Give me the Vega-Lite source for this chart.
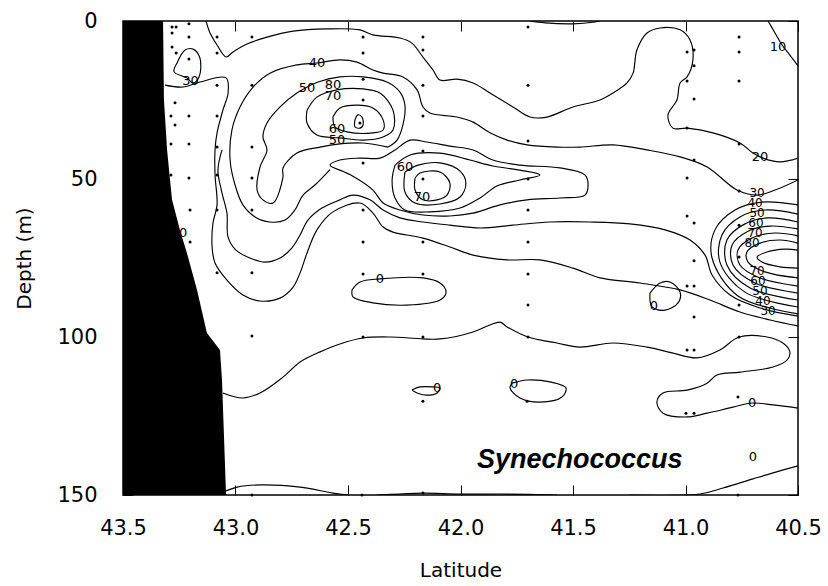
{
"$schema":"https://vega.github.io/schema/vega-lite/v6.json",
"width":675,"height":474,"autosize":"none",
"padding":{"left":123,"top":21,"right":30,"bottom":91},
"background":"white",
"config":{"view":{"stroke":"black","strokeWidth":1.5},"axis":{"grid":false,"domain":false,"labelFont":"DejaVu Sans","titleFont":"DejaVu Sans","labelColor":"black","titleColor":"black","tickColor":"black","tickWidth":1}},
"resolve":{"axis":{"x":"independent","y":"independent"}},
"datasets":{
"land":[{"lat":43.322,"dep":0},{"lat":43.318,"dep":25},{"lat":43.304,"dep":40.8},{"lat":43.291,"dep":50.3},{"lat":43.282,"dep":56.6},{"lat":43.247,"dep":66.1},{"lat":43.216,"dep":73.4},{"lat":43.171,"dep":85.1},{"lat":43.127,"dep":98.7},{"lat":43.069,"dep":104.1},{"lat":43.06,"dep":113.6},{"lat":43.042,"dep":150}],
"pts":[{"lat":43.282,"dep":1.9},{"lat":43.264,"dep":1.9},{"lat":43.282,"dep":3.8},{"lat":43.282,"dep":8.2},{"lat":43.264,"dep":10.1},{"lat":43.269,"dep":25.9},{"lat":43.287,"dep":30.1},{"lat":43.269,"dep":32.9},{"lat":43.287,"dep":38.9},{"lat":43.287,"dep":48.7},
{"lat":43.207,"dep":0.9},{"lat":43.207,"dep":5.1},{"lat":43.207,"dep":12.0},{"lat":43.207,"dep":30.1},{"lat":43.207,"dep":38.9},{"lat":43.207,"dep":49.7},{"lat":43.202,"dep":59.8},{"lat":43.202,"dep":69.9},
{"lat":43.082,"dep":5.1},{"lat":43.082,"dep":10.1},{"lat":43.082,"dep":20.3},{"lat":43.082,"dep":30.1},{"lat":43.082,"dep":39.9},{"lat":43.082,"dep":48.7},{"lat":43.082,"dep":59.8},{"lat":43.082,"dep":79.7},
{"lat":42.927,"dep":5.1},{"lat":42.927,"dep":20.3},{"lat":42.927,"dep":39.9},{"lat":42.927,"dep":49.7},{"lat":42.927,"dep":59.8},{"lat":42.927,"dep":79.7},{"lat":42.927,"dep":99.7},{"lat":42.927,"dep":150},
{"lat":42.433,"dep":5.1},{"lat":42.433,"dep":10.1},{"lat":42.433,"dep":18.4},{"lat":42.433,"dep":25.0},{"lat":42.447,"dep":32.3},{"lat":42.433,"dep":44.9},{"lat":42.433,"dep":59.8},{"lat":42.433,"dep":69.9},{"lat":42.433,"dep":80.1},{"lat":42.433,"dep":100.0},{"lat":42.438,"dep":150},
{"lat":42.167,"dep":5.1},{"lat":42.167,"dep":9.2},{"lat":42.167,"dep":20.3},{"lat":42.167,"dep":30.1},{"lat":42.167,"dep":41.1},{"lat":42.167,"dep":50.0},{"lat":42.167,"dep":69.9},{"lat":42.167,"dep":80.1},{"lat":42.167,"dep":100.0},{"lat":42.167,"dep":120.3},{"lat":42.167,"dep":149.4},
{"lat":41.7,"dep":1.9},{"lat":41.7,"dep":20.3},{"lat":41.7,"dep":38.0},{"lat":41.7,"dep":50.0},{"lat":41.7,"dep":59.8},{"lat":41.7,"dep":69.9},{"lat":41.7,"dep":80.1},{"lat":41.7,"dep":89.9},{"lat":41.7,"dep":100.0},{"lat":41.704,"dep":120.3},
{"lat":40.993,"dep":9.8},{"lat":40.962,"dep":9.2},{"lat":40.962,"dep":14.2},{"lat":40.993,"dep":19.0},{"lat":40.962,"dep":24.7},{"lat":40.993,"dep":33.9},{"lat":40.962,"dep":44.0},{"lat":40.993,"dep":49.7},{"lat":40.993,"dep":61.7},{"lat":40.962,"dep":63.9},{"lat":40.962,"dep":75.9},{"lat":40.993,"dep":83.9},{"lat":40.962,"dep":83.9},{"lat":40.962,"dep":93.7},{"lat":40.993,"dep":104.1},{"lat":40.962,"dep":104.1},{"lat":40.998,"dep":124.1},{"lat":40.962,"dep":124.1},
{"lat":40.762,"dep":5.1},{"lat":40.762,"dep":9.8},{"lat":40.762,"dep":19.0},{"lat":40.762,"dep":38.9},{"lat":40.762,"dep":53.8},{"lat":40.762,"dep":64.6},{"lat":40.762,"dep":74.7},{"lat":40.762,"dep":89.9},{"lat":40.762,"dep":100.0},{"lat":40.767,"dep":119.0},{"lat":40.767,"dep":150}],
"lab":[{"t":"40","lat":42.638,"dep":13.3},{"t":"50","lat":42.682,"dep":21.2},{"t":"80","lat":42.567,"dep":20.3},{"t":"70","lat":42.567,"dep":23.8},{"t":"60","lat":42.549,"dep":34.1},{"t":"50","lat":42.549,"dep":37.8},{"t":"60","lat":42.247,"dep":46.2},{"t":"70","lat":42.171,"dep":55.7},{"t":"30","lat":43.2,"dep":19.0},{"t":"20","lat":40.669,"dep":43.0},{"t":"10","lat":40.589,"dep":8.2},
{"t":"0","lat":42.358,"dep":81.6},{"t":"0","lat":41.14,"dep":90.2},{"t":"0","lat":43.233,"dep":67.1},{"t":"0","lat":42.104,"dep":116.1},{"t":"0","lat":41.762,"dep":114.9},{"t":"0","lat":40.704,"dep":120.9},{"t":"0","lat":40.7,"dep":138.0}],
"labR":[{"t":"30","lat":40.682,"dep":54.4},{"t":"40","lat":40.691,"dep":57.6},{"t":"50","lat":40.682,"dep":60.8},{"t":"60","lat":40.687,"dep":63.9},{"t":"70","lat":40.691,"dep":67.1},{"t":"80","lat":40.704,"dep":70.3},
{"t":"70","lat":40.682,"dep":79.1},{"t":"60","lat":40.678,"dep":82.3},{"t":"50","lat":40.669,"dep":85.4},{"t":"40","lat":40.656,"dep":88.6},{"t":"30","lat":40.633,"dep":91.8}],
"ct":[
{"c":"A","lat":43.131,"dep":0},{"c":"A","lat":43.113,"dep":3.8},{"c":"A","lat":43.082,"dep":7.6},{"c":"A","lat":43.042,"dep":11.4},{"c":"A","lat":43.011,"dep":9.8},{"c":"A","lat":42.949,"dep":7.3},{"c":"A","lat":42.86,"dep":5.1},{"c":"A","lat":42.744,"dep":3.2},{"c":"A","lat":42.593,"dep":2.5},{"c":"A","lat":42.447,"dep":2.8},{"c":"A","lat":42.389,"dep":4.4},{"c":"A","lat":42.269,"dep":5.4},{"c":"A","lat":42.216,"dep":7.0},{"c":"A","lat":42.167,"dep":11.4},{"c":"A","lat":42.122,"dep":15.5},{"c":"A","lat":42.091,"dep":18.7},{"c":"A","lat":42.016,"dep":18.4},{"c":"A","lat":41.944,"dep":19.6},{"c":"A","lat":41.869,"dep":22.8},{"c":"A","lat":41.767,"dep":27.2},{"c":"A","lat":41.691,"dep":30.4},{"c":"A","lat":41.616,"dep":30.4},{"c":"A","lat":41.5,"dep":27.2},{"c":"A","lat":41.38,"dep":25.0},{"c":"A","lat":41.322,"dep":22.8},{"c":"A","lat":41.26,"dep":19.6},{"c":"A","lat":41.233,"dep":16.5},{"c":"A","lat":41.216,"dep":9.2},{"c":"A","lat":41.171,"dep":3.8},{"c":"A","lat":41.113,"dep":2.2},{"c":"A","lat":41.024,"dep":2.8},{"c":"A","lat":40.98,"dep":6.0},{"c":"A","lat":40.967,"dep":12.3},{"c":"A","lat":40.993,"dep":17.7},{"c":"A","lat":41.024,"dep":19.6},{"c":"A","lat":41.038,"dep":25.0},{"c":"A","lat":41.078,"dep":29.7},{"c":"A","lat":41.056,"dep":33.9},{"c":"A","lat":40.993,"dep":33.9},{"c":"A","lat":40.878,"dep":35.4},{"c":"A","lat":40.758,"dep":38.6},{"c":"A","lat":40.70,"dep":41.8},{"c":"A","lat":40.656,"dep":43.4},{"c":"A","lat":40.58,"dep":44.6},{"c":"A","lat":40.5,"dep":43.4},
{"c":"TR","lat":40.633,"dep":0},{"c":"TR","lat":40.602,"dep":3.8},{"c":"TR","lat":40.571,"dep":7.6},{"c":"TR","lat":40.536,"dep":10.8},{"c":"TR","lat":40.5,"dep":14.2},
{"c":"TS","lat":41.691,"dep":0},{"c":"TS","lat":41.624,"dep":0.6},{"c":"TS","lat":41.5,"dep":0.9},{"c":"TS","lat":41.402,"dep":0.3},{"c":"TS","lat":41.38,"dep":0},
{"c":"L30","lat":43.26,"dep":13.3},{"c":"L30","lat":43.224,"dep":9.2},{"c":"L30","lat":43.189,"dep":8.9},{"c":"L30","lat":43.158,"dep":11.7},{"c":"L30","lat":43.162,"dep":17.7},{"c":"L30","lat":43.189,"dep":19.6},{"c":"L30","lat":43.216,"dep":18.0},{"c":"L30","lat":43.273,"dep":16.1},{"c":"L30","lat":43.26,"dep":13.3},
{"c":"B","lat":43.313,"dep":20.3},{"c":"B","lat":43.233,"dep":20.9},{"c":"B","lat":43.158,"dep":19.3},{"c":"B","lat":43.042,"dep":18.0},{"c":"B","lat":43.033,"dep":22.8},{"c":"B","lat":43.056,"dep":28.2},{"c":"B","lat":43.082,"dep":35.4},{"c":"B","lat":43.091,"dep":40.8},{"c":"B","lat":43.091,"dep":48.7},{"c":"B","lat":43.082,"dep":58.2},{"c":"B","lat":43.1,"dep":63.9},{"c":"B","lat":43.104,"dep":71.5},{"c":"B","lat":43.091,"dep":76.6},{"c":"B","lat":43.038,"dep":82.0},{"c":"B","lat":42.967,"dep":86.7},{"c":"B","lat":42.891,"dep":88.6},{"c":"B","lat":42.802,"dep":87.7},{"c":"B","lat":42.744,"dep":84.2},{"c":"B","lat":42.713,"dep":79.7},{"c":"B","lat":42.682,"dep":73.4},{"c":"B","lat":42.638,"dep":66.1},{"c":"B","lat":42.567,"dep":60.4},{"c":"B","lat":42.447,"dep":57.6},{"c":"B","lat":42.389,"dep":60.8},{"c":"B","lat":42.344,"dep":65.2},{"c":"B","lat":42.3,"dep":66.8},{"c":"B","lat":42.167,"dep":68.7},{"c":"B","lat":42.047,"dep":71.5},{"c":"B","lat":41.944,"dep":74.1},{"c":"B","lat":41.793,"dep":75.6},{"c":"B","lat":41.647,"dep":75.6},{"c":"B","lat":41.5,"dep":78.2},{"c":"B","lat":41.38,"dep":81.3},{"c":"B","lat":41.202,"dep":82.9},{"c":"B","lat":41.024,"dep":85.1},{"c":"B","lat":40.891,"dep":88.3},{"c":"B","lat":40.758,"dep":92.1},{"c":"B","lat":40.624,"dep":94.6},{"c":"B","lat":40.5,"dep":96.5},
{"c":"K30","lat":42.58,"dep":47.0},{"c":"K30","lat":42.647,"dep":51.9},{"c":"K30","lat":42.7,"dep":55.1},{"c":"K30","lat":42.736,"dep":59.8},{"c":"K30","lat":42.78,"dep":63.0},{"c":"K30","lat":42.847,"dep":63.6},{"c":"K30","lat":42.913,"dep":62.0},{"c":"K30","lat":42.967,"dep":58.2},{"c":"K30","lat":43.002,"dep":51.9},{"c":"K30","lat":43.024,"dep":44.0},{"c":"K30","lat":43.016,"dep":34.5},{"c":"K30","lat":42.98,"dep":27.2},{"c":"K30","lat":42.922,"dep":20.9},{"c":"K30","lat":42.847,"dep":16.5},{"c":"K30","lat":42.727,"dep":13.9},{"c":"K30","lat":42.638,"dep":13.3},{"c":"K30","lat":42.536,"dep":12.3},{"c":"K30","lat":42.46,"dep":13.0},{"c":"K30","lat":42.389,"dep":15.5},{"c":"K30","lat":42.344,"dep":16.5},{"c":"K30","lat":42.256,"dep":17.7},{"c":"K30","lat":42.193,"dep":21.8},{"c":"K30","lat":42.167,"dep":27.2},{"c":"K30","lat":42.136,"dep":29.1},{"c":"K30","lat":42.016,"dep":30.4},{"c":"K30","lat":41.944,"dep":32.0},{"c":"K30","lat":41.869,"dep":35.4},{"c":"K30","lat":41.793,"dep":37.7},{"c":"K30","lat":41.704,"dep":39.2},{"c":"K30","lat":41.571,"dep":39.9},{"c":"K30","lat":41.469,"dep":39.9},{"c":"K30","lat":41.322,"dep":39.2},{"c":"K30","lat":41.171,"dep":40.8},{"c":"K30","lat":41.024,"dep":43.0},{"c":"K30","lat":40.904,"dep":46.2},{"c":"K30","lat":40.771,"dep":53.5},{"c":"K30","lat":40.682,"dep":55.1},{"c":"K30","lat":40.602,"dep":53.5},{"c":"K30","lat":40.5,"dep":50.3},
{"c":"U2","lat":43.06,"dep":40.8},{"c":"U2","lat":43.078,"dep":47.2},{"c":"U2","lat":43.06,"dep":54.4},{"c":"U2","lat":43.038,"dep":60.8},{"c":"U2","lat":43.033,"dep":68.4},{"c":"U2","lat":42.998,"dep":72.5},{"c":"U2","lat":42.936,"dep":75.0},{"c":"U2","lat":42.869,"dep":76.3},{"c":"U2","lat":42.802,"dep":75.0},{"c":"U2","lat":42.749,"dep":71.8},{"c":"U2","lat":42.713,"dep":67.7},{"c":"U2","lat":42.678,"dep":63.0},{"c":"U2","lat":42.616,"dep":59.2},{"c":"U2","lat":42.536,"dep":56.6},{"c":"U2","lat":42.478,"dep":55.1},{"c":"U2","lat":42.402,"dep":56.6},{"c":"U2","lat":42.344,"dep":59.8},{"c":"U2","lat":42.269,"dep":62.3},{"c":"U2","lat":42.167,"dep":63.6},{"c":"U2","lat":42.047,"dep":64.6},{"c":"U2","lat":41.913,"dep":65.5},{"c":"U2","lat":41.767,"dep":64.6},{"c":"U2","lat":41.602,"dep":63.6},{"c":"U2","lat":41.424,"dep":63.6},{"c":"U2","lat":41.247,"dep":64.2},{"c":"U2","lat":41.091,"dep":66.1},{"c":"U2","lat":40.98,"dep":69.3},{"c":"U2","lat":40.913,"dep":74.1},{"c":"U2","lat":40.882,"dep":80.4},{"c":"U2","lat":40.802,"dep":86.7},{"c":"U2","lat":40.669,"dep":90.8},{"c":"U2","lat":40.5,"dep":93.4},
{"c":"TG1","lat":42.536,"dep":47.2},{"c":"TG1","lat":42.478,"dep":49.1},{"c":"TG1","lat":42.389,"dep":53.5},{"c":"TG1","lat":42.344,"dep":57.6},{"c":"TG1","lat":42.269,"dep":59.8},{"c":"TG1","lat":42.167,"dep":61.4},{"c":"TG1","lat":42.047,"dep":61.7},{"c":"TG1","lat":41.944,"dep":60.8},{"c":"TG1","lat":41.824,"dep":58.2},{"c":"TG1","lat":41.704,"dep":56.6},{"c":"TG1","lat":41.558,"dep":56.0},{"c":"TG1","lat":41.447,"dep":55.1},{"c":"TG1","lat":41.433,"dep":51.9},{"c":"TG1","lat":41.447,"dep":48.7},{"c":"TG1","lat":41.558,"dep":46.5},{"c":"TG1","lat":41.736,"dep":45.6},{"c":"TG1","lat":41.856,"dep":44.0},{"c":"TG1","lat":41.944,"dep":40.8},{"c":"TG1","lat":42.047,"dep":39.6},{"c":"TG1","lat":42.149,"dep":38.3},{"c":"TG1","lat":42.224,"dep":37.7},{"c":"TG1","lat":42.291,"dep":40.8},{"c":"TG1","lat":42.358,"dep":43.4},{"c":"TG1","lat":42.447,"dep":43.4},{"c":"TG1","lat":42.536,"dep":44.0},{"c":"TG1","lat":42.58,"dep":45.6},{"c":"TG1","lat":42.536,"dep":47.2},
{"c":"P2c","lat":42.291,"dep":45.6},{"c":"P2c","lat":42.224,"dep":42.4},{"c":"P2c","lat":42.091,"dep":41.8},{"c":"P2c","lat":41.958,"dep":44.0},{"c":"P2c","lat":41.856,"dep":45.9},{"c":"P2c","lat":41.736,"dep":47.2},{"c":"P2c","lat":41.647,"dep":48.7},{"c":"P2c","lat":41.736,"dep":50.3},{"c":"P2c","lat":41.838,"dep":52.2},{"c":"P2c","lat":41.913,"dep":56.0},{"c":"P2c","lat":42.002,"dep":59.2},{"c":"P2c","lat":42.136,"dep":60.4},{"c":"P2c","lat":42.247,"dep":59.8},{"c":"P2c","lat":42.291,"dep":56.0},{"c":"P2c","lat":42.304,"dep":50.3},{"c":"P2c","lat":42.291,"dep":45.6},
{"c":"P2b","lat":42.247,"dep":47.8},{"c":"P2b","lat":42.189,"dep":45.6},{"c":"P2b","lat":42.091,"dep":44.9},{"c":"P2b","lat":42.002,"dep":47.5},{"c":"P2b","lat":41.976,"dep":51.3},{"c":"P2b","lat":42.002,"dep":55.7},{"c":"P2b","lat":42.091,"dep":57.9},{"c":"P2b","lat":42.202,"dep":57.6},{"c":"P2b","lat":42.247,"dep":54.1},{"c":"P2b","lat":42.247,"dep":47.8},
{"c":"P2a","lat":42.202,"dep":49.7},{"c":"P2a","lat":42.18,"dep":48.1},{"c":"P2a","lat":42.091,"dep":47.8},{"c":"P2a","lat":42.047,"dep":51.3},{"c":"P2a","lat":42.06,"dep":55.1},{"c":"P2a","lat":42.104,"dep":56.6},{"c":"P2a","lat":42.167,"dep":56.6},{"c":"P2a","lat":42.202,"dep":53.5},{"c":"P2a","lat":42.202,"dep":49.7},
{"c":"P1a","lat":42.567,"dep":30.4},{"c":"P1a","lat":42.536,"dep":27.5},{"c":"P1a","lat":42.46,"dep":26.6},{"c":"P1a","lat":42.389,"dep":27.5},{"c":"P1a","lat":42.344,"dep":31.3},{"c":"P1a","lat":42.344,"dep":34.5},{"c":"P1a","lat":42.389,"dep":35.4},{"c":"P1a","lat":42.504,"dep":35.1},{"c":"P1a","lat":42.558,"dep":33.5},{"c":"P1a","lat":42.567,"dep":30.4},
{"c":"P1b","lat":42.682,"dep":28.2},{"c":"P1b","lat":42.638,"dep":24.1},{"c":"P1b","lat":42.549,"dep":21.8},{"c":"P1b","lat":42.433,"dep":21.5},{"c":"P1b","lat":42.358,"dep":22.8},{"c":"P1b","lat":42.3,"dep":28.2},{"c":"P1b","lat":42.3,"dep":34.5},{"c":"P1b","lat":42.344,"dep":36.7},{"c":"P1b","lat":42.433,"dep":37.7},{"c":"P1b","lat":42.536,"dep":37.0},{"c":"P1b","lat":42.638,"dep":36.1},{"c":"P1b","lat":42.682,"dep":32.3},{"c":"P1b","lat":42.682,"dep":28.2},
{"c":"P1t","lat":42.469,"dep":31.3},{"c":"P1t","lat":42.456,"dep":29.7},{"c":"P1t","lat":42.438,"dep":30.4},{"c":"P1t","lat":42.433,"dep":32.9},{"c":"P1t","lat":42.447,"dep":33.9},{"c":"P1t","lat":42.469,"dep":33.5},{"c":"P1t","lat":42.469,"dep":31.3},
{"c":"P1c","lat":42.322,"dep":39.9},{"c":"P1c","lat":42.433,"dep":38.6},{"c":"P1c","lat":42.536,"dep":38.9},{"c":"P1c","lat":42.624,"dep":39.9},{"c":"P1c","lat":42.727,"dep":41.8},{"c":"P1c","lat":42.789,"dep":46.5},{"c":"P1c","lat":42.789,"dep":49.4},{"c":"P1c","lat":42.833,"dep":57.6},{"c":"P1c","lat":42.878,"dep":56.6},{"c":"P1c","lat":42.904,"dep":53.5},{"c":"P1c","lat":42.891,"dep":46.2},{"c":"P1c","lat":42.86,"dep":40.8},{"c":"P1c","lat":42.878,"dep":36.7},{"c":"P1c","lat":42.86,"dep":32.3},{"c":"P1c","lat":42.802,"dep":27.2},{"c":"P1c","lat":42.727,"dep":22.8},{"c":"P1c","lat":42.633,"dep":19.3},{"c":"P1c","lat":42.536,"dep":17.7},{"c":"P1c","lat":42.433,"dep":17.7},{"c":"P1c","lat":42.327,"dep":19.3},{"c":"P1c","lat":42.269,"dep":22.5},{"c":"P1c","lat":42.247,"dep":26.6},{"c":"P1c","lat":42.256,"dep":32.9},{"c":"P1c","lat":42.282,"dep":37.7},{"c":"P1c","lat":42.322,"dep":39.9},
{"c":"R1","lat":40.5,"dep":72.5},{"c":"R1","lat":40.558,"dep":72.2},{"c":"R1","lat":40.638,"dep":73.1},{"c":"R1","lat":40.682,"dep":74.7},{"c":"R1","lat":40.66,"dep":76.3},{"c":"R1","lat":40.58,"dep":77.8},{"c":"R1","lat":40.5,"dep":78.2},
{"c":"R2","lat":40.5,"dep":70.3},{"c":"R2","lat":40.58,"dep":69.3},{"c":"R2","lat":40.669,"dep":70.3},{"c":"R2","lat":40.727,"dep":73.1},{"c":"R2","lat":40.722,"dep":76.3},{"c":"R2","lat":40.647,"dep":79.4},{"c":"R2","lat":40.5,"dep":81.3},
{"c":"R3","lat":40.5,"dep":68.0},{"c":"R3","lat":40.602,"dep":67.1},{"c":"R3","lat":40.704,"dep":68.7},{"c":"R3","lat":40.767,"dep":72.5},{"c":"R3","lat":40.758,"dep":77.2},{"c":"R3","lat":40.669,"dep":81.3},{"c":"R3","lat":40.5,"dep":83.9},
{"c":"R4","lat":40.5,"dep":65.8},{"c":"R4","lat":40.624,"dep":64.9},{"c":"R4","lat":40.722,"dep":66.5},{"c":"R4","lat":40.793,"dep":70.9},{"c":"R4","lat":40.789,"dep":77.2},{"c":"R4","lat":40.691,"dep":82.9},{"c":"R4","lat":40.5,"dep":86.1},
{"c":"R5","lat":40.5,"dep":63.6},{"c":"R5","lat":40.633,"dep":62.3},{"c":"R5","lat":40.736,"dep":64.2},{"c":"R5","lat":40.816,"dep":69.3},{"c":"R5","lat":40.816,"dep":77.2},{"c":"R5","lat":40.713,"dep":84.5},{"c":"R5","lat":40.5,"dep":88.3},
{"c":"R6","lat":40.5,"dep":61.1},{"c":"R6","lat":40.647,"dep":59.8},{"c":"R6","lat":40.758,"dep":62.0},{"c":"R6","lat":40.838,"dep":67.7},{"c":"R6","lat":40.847,"dep":76.3},{"c":"R6","lat":40.736,"dep":85.8},{"c":"R6","lat":40.5,"dep":90.5},
{"c":"R7","lat":40.5,"dep":58.2},{"c":"R7","lat":40.66,"dep":57.3},{"c":"R7","lat":40.78,"dep":59.8},{"c":"R7","lat":40.869,"dep":66.1},{"c":"R7","lat":40.882,"dep":75.0},{"c":"R7","lat":40.767,"dep":87.0},{"c":"R7","lat":40.5,"dep":92.7},
{"c":"LM","lat":43.056,"dep":117.7},{"c":"LM","lat":42.967,"dep":119.3},{"c":"LM","lat":42.891,"dep":117.7},{"c":"LM","lat":42.789,"dep":112.7},{"c":"LM","lat":42.713,"dep":107.9},{"c":"LM","lat":42.624,"dep":104.7},{"c":"LM","lat":42.536,"dep":102.2},{"c":"LM","lat":42.433,"dep":100.3},{"c":"LM","lat":42.313,"dep":100.0},{"c":"LM","lat":42.167,"dep":100.6},{"c":"LM","lat":42.091,"dep":100.6},{"c":"LM","lat":41.944,"dep":98.4},{"c":"LM","lat":41.869,"dep":96.2},{"c":"LM","lat":41.824,"dep":95.3},{"c":"LM","lat":41.793,"dep":96.8},{"c":"LM","lat":41.7,"dep":100.0},{"c":"LM","lat":41.571,"dep":101.9},{"c":"LM","lat":41.469,"dep":103.2},{"c":"LM","lat":41.322,"dep":101.9},{"c":"LM","lat":41.171,"dep":103.2},{"c":"LM","lat":41.056,"dep":105.1},{"c":"LM","lat":40.949,"dep":106.6},{"c":"LM","lat":40.847,"dep":104.1},{"c":"LM","lat":40.762,"dep":100.0},{"c":"LM","lat":40.638,"dep":100.0},{"c":"LM","lat":40.567,"dep":101.9},{"c":"LM","lat":40.536,"dep":104.7},{"c":"LM","lat":40.549,"dep":107.3},{"c":"LM","lat":40.611,"dep":109.5},{"c":"LM","lat":40.758,"dep":111.1},{"c":"LM","lat":40.86,"dep":112.0},{"c":"LM","lat":40.904,"dep":114.6},{"c":"LM","lat":40.993,"dep":116.8},{"c":"LM","lat":41.1,"dep":117.7},{"c":"LM","lat":41.127,"dep":120.6},{"c":"LM","lat":41.1,"dep":124.1},{"c":"LM","lat":40.993,"dep":125.3},{"c":"LM","lat":40.904,"dep":124.1},{"c":"LM","lat":40.789,"dep":122.2},{"c":"LM","lat":40.704,"dep":120.9},{"c":"LM","lat":40.611,"dep":121.5},{"c":"LM","lat":40.5,"dep":122.5},
{"c":"BT1","lat":43.042,"dep":148.7},{"c":"BT1","lat":42.993,"dep":147.5},{"c":"BT1","lat":42.891,"dep":146.8},{"c":"BT1","lat":42.713,"dep":147.5},{"c":"BT1","lat":42.567,"dep":149.4},{"c":"BT1","lat":42.5,"dep":150},
{"c":"BT2","lat":42.371,"dep":150},{"c":"BT2","lat":42.269,"dep":149.7},{"c":"BT2","lat":42.167,"dep":149.4},{"c":"BT2","lat":42.002,"dep":149.7},{"c":"BT2","lat":41.793,"dep":149.7},{"c":"BT2","lat":41.571,"dep":150},
{"c":"BT3","lat":41.247,"dep":150},{"c":"BT3","lat":40.936,"dep":149.7},{"c":"BT3","lat":40.833,"dep":147.8},{"c":"BT3","lat":40.7,"dep":144.9},{"c":"BT3","lat":40.611,"dep":143.0},{"c":"BT3","lat":40.5,"dep":140.8},
{"c":"S1","lat":42.482,"dep":85.1},{"c":"S1","lat":42.447,"dep":82.6},{"c":"S1","lat":42.358,"dep":81.6},{"c":"S1","lat":42.167,"dep":81.3},{"c":"S1","lat":42.091,"dep":82.9},{"c":"S1","lat":42.064,"dep":85.8},{"c":"S1","lat":42.091,"dep":88.3},{"c":"S1","lat":42.238,"dep":89.9},{"c":"S1","lat":42.389,"dep":89.2},{"c":"S1","lat":42.478,"dep":87.3},{"c":"S1","lat":42.482,"dep":85.1},
{"c":"S2","lat":41.158,"dep":86.1},{"c":"S2","lat":41.113,"dep":82.9},{"c":"S2","lat":41.069,"dep":82.6},{"c":"S2","lat":41.024,"dep":85.8},{"c":"S2","lat":41.033,"dep":89.2},{"c":"S2","lat":41.091,"dep":91.5},{"c":"S2","lat":41.149,"dep":90.5},{"c":"S2","lat":41.158,"dep":86.1},
{"c":"S3","lat":42.216,"dep":116.8},{"c":"S3","lat":42.18,"dep":115.8},{"c":"S3","lat":42.122,"dep":115.8},{"c":"S3","lat":42.091,"dep":116.1},{"c":"S3","lat":42.104,"dep":117.7},{"c":"S3","lat":42.149,"dep":118.4},{"c":"S3","lat":42.193,"dep":117.7},{"c":"S3","lat":42.216,"dep":116.8},
{"c":"S4","lat":41.771,"dep":114.6},{"c":"S4","lat":41.704,"dep":113.6},{"c":"S4","lat":41.602,"dep":114.2},{"c":"S4","lat":41.531,"dep":116.1},{"c":"S4","lat":41.549,"dep":119.0},{"c":"S4","lat":41.647,"dep":120.6},{"c":"S4","lat":41.736,"dep":119.3},{"c":"S4","lat":41.78,"dep":116.1},{"c":"S4","lat":41.771,"dep":114.6}
]},
"layer":[
{"data":{"name":"land"},"mark":{"type":"area","orient":"horizontal","color":"black"},
 "encoding":{
  "y":{"field":"dep","type":"quantitative","scale":{"domain":[0,150],"reverse":true,"nice":false,"zero":false},
       "axis":{"orient":"left","values":[0,50,100,150],"labelFontSize":21,"tickSize":-10,"labelPadding":36,"title":"Depth (m)","titleFontSize":20,"titleFontWeight":"normal","titlePadding":22}},
  "x":{"field":"lat","type":"quantitative","scale":{"domain":[40.5,43.5],"reverse":true,"nice":false,"zero":false},
       "axis":{"orient":"bottom","values":[43.5,43,42.5,42,41.5,41,40.5],"format":".1f","labelFontSize":21,"tickSize":-10,"labelPadding":32,"labelFlush":false,"labelOverlap":false,"title":"Latitude","titleFontSize":20,"titleFontWeight":"normal","titlePadding":22}},
  "x2":{"datum":43.5}}},
{"data":{"name":"ct"},"mark":{"type":"line","color":"black","strokeWidth":1.15,"clip":true,"interpolate":"catmull-rom"},
 "encoding":{"x":{"field":"lat","type":"quantitative","axis":null},"y":{"field":"dep","type":"quantitative","axis":null},"detail":{"field":"c"},"order":{"value":null}}},
{"data":{"name":"pts"},"mark":{"type":"point","filled":true,"color":"black","size":9,"opacity":1},
 "encoding":{"x":{"field":"lat","type":"quantitative","axis":{"orient":"top","values":[43.5,43,42.5,42,41.5,41,40.5],"labels":false,"tickSize":-10,"title":null}},
  "y":{"field":"dep","type":"quantitative","axis":{"orient":"right","values":[0,50,100,150],"labels":false,"tickSize":-10,"title":null}}}},
{"data":{"name":"lab"},"mark":{"type":"text","font":"DejaVu Sans","fontSize":13,"color":"black","align":"center","baseline":"middle"},
 "encoding":{"x":{"field":"lat","type":"quantitative","axis":null},"y":{"field":"dep","type":"quantitative","axis":null},"text":{"field":"t"}}},
{"data":{"name":"labR"},"mark":{"type":"text","font":"DejaVu Sans","fontSize":12,"color":"black","align":"center","baseline":"middle"},
 "encoding":{"x":{"field":"lat","type":"quantitative","axis":null},"y":{"field":"dep","type":"quantitative","axis":null},"text":{"field":"t"}}},
{"data":{"values":[{"t":"Synechococcus","lat":41.47,"dep":139}]},"mark":{"type":"text","font":"Liberation Sans","fontSize":27,"fontStyle":"italic","fontWeight":"bold","color":"black","align":"center","baseline":"middle"},
 "encoding":{"x":{"field":"lat","type":"quantitative","axis":null},"y":{"field":"dep","type":"quantitative","axis":null},"text":{"field":"t"}}}
]}
